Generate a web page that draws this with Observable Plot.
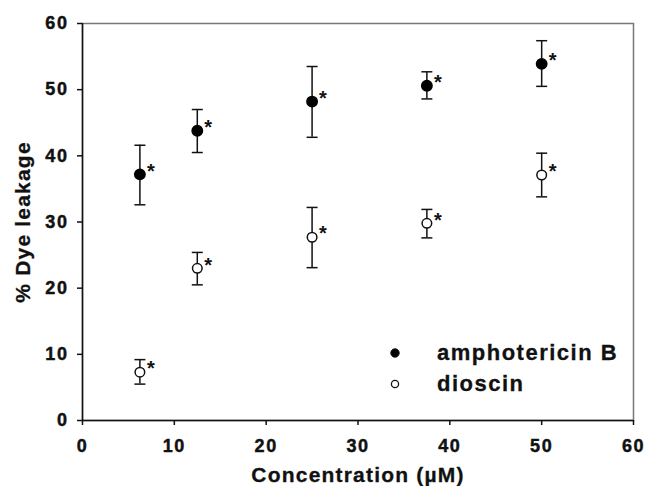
<!DOCTYPE html>
<html><head><meta charset="utf-8">
<script src="https://cdn.jsdelivr.net/npm/d3@7"></script>
<script src="https://cdn.jsdelivr.net/npm/@observablehq/plot@0.6"></script>
<style>
body{margin:0;background:#fff;font-family:"Liberation Sans",Arial,sans-serif;}
#wrap{position:relative;width:646px;height:486px;}
#wrap svg text{letter-spacing:1.2px;}
#wrap svg g[aria-label$="tick label"] text{letter-spacing:1.6px;stroke:#111;stroke-width:0.45px;}
.leg{position:absolute;left:380px;display:flex;align-items:center;font-weight:bold;font-size:22px;letter-spacing:1.5px;color:#111;height:26px;-webkit-text-stroke:0.3px #111;}
.leg svg{width:30px;height:26px;margin-right:27px;}
</style></head><body><div id="wrap"></div>
<script>
const concentrations = [6.25, 12.5, 25, 37.5, 50];
const amphoB     = [37.2, 43.8, 48.2, 50.6, 53.9];
const amphoBLow  = [32.6, 40.5, 42.8, 48.6, 50.5];
const amphoBHigh = [41.6, 47.0, 53.5, 52.7, 57.4];
const dioscin     = [7.3, 23.0, 27.7, 29.8, 37.1];
const dioscinLow  = [5.5, 20.5, 23.1, 27.6, 33.8];
const dioscinHigh = [9.2, 25.4, 32.2, 31.9, 40.4];
const xTicks = [0, 10, 20, 30, 40, 50, 60];
const yTicks = [0, 10, 20, 30, 40, 50, 60];
const seriesNames = ["amphotericin B", "dioscin"];
const xTitle = "Concentration (\u00b5M)";
const yTitle = "% Dye leakage";

const rows = [];
concentrations.forEach((c, i) => {
  rows.push({series: seriesNames[0], x: c, y: amphoB[i], lo: amphoBLow[i], hi: amphoBHigh[i]});
  rows.push({series: seriesNames[1], x: c, y: dioscin[i], lo: dioscinLow[i], hi: dioscinHigh[i]});
});
const capSymbol = {draw(ctx, size) { const w = Math.sqrt(size / Math.PI); ctx.moveTo(-w, 0); ctx.lineTo(w, 0); }};
const font = "'Liberation Sans', Arial, sans-serif";

const chart = Plot.plot({
  width: 646, height: 486,
  marginLeft: 82, marginRight: 13, marginTop: 23, marginBottom: 66,
  style: {fontFamily: font, background: "white", color: "#111"},
  x: {domain: [0, 60]},
  y: {domain: [0, 60]},
  marks: [
    Plot.frame({stroke: "#777", strokeWidth: 1.5}),
    Plot.ruleY([0], {stroke: "#111", strokeWidth: 1.5}),
    Plot.ruleX([0], {stroke: "#111", strokeWidth: 1.5}),
    Plot.axisX({ticks: xTicks, tickSize: 5, tickPadding: 14, fontSize: 18, fontWeight: "bold", label: null, stroke: "#111", strokeWidth: 1.5, fill: "#111"}),
    Plot.axisY({ticks: yTicks, tickSize: 5, tickPadding: 9, fontSize: 18, fontWeight: "bold", label: null, stroke: "#111", strokeWidth: 1.5, fill: "#111"}),
    Plot.text([xTitle], {text: d => d, frameAnchor: "bottom", textAnchor: "middle", lineAnchor: "middle", dy: 55, fontSize: 21, fontWeight: "bold", fill: "#111", stroke: "#111", strokeWidth: 0.3}),
    Plot.text([yTitle], {text: d => d, frameAnchor: "left", textAnchor: "middle", lineAnchor: "middle", dx: -59, rotate: -90, fontSize: 21, fontWeight: "bold", fill: "#111", stroke: "#111", strokeWidth: 0.3}),
    Plot.ruleX(rows, {x: "x", y1: "lo", y2: "hi", stroke: "#111", strokeWidth: 1.5}),
    Plot.dot(rows, {x: "x", y: "lo", symbol: capSymbol, r: 5.5, stroke: "#111", strokeWidth: 1.5}),
    Plot.dot(rows, {x: "x", y: "hi", symbol: capSymbol, r: 5.5, stroke: "#111", strokeWidth: 1.5}),
    Plot.dot(rows.filter(d => d.series === seriesNames[0]), {x: "x", y: "y", r: 5.2, fill: "#000", stroke: "#000"}),
    Plot.dot(rows.filter(d => d.series === seriesNames[1]), {x: "x", y: "y", r: 4.8, fill: "white", stroke: "#111", strokeWidth: 1.5}),
    Plot.text(rows, {x: "x", y: "y", text: () => "*", textAnchor: "start", lineAnchor: "top", dx: 7, dy: -11, fontSize: 20, fontWeight: "bold", fill: "#111"})
  ]
});
const wrap = document.getElementById("wrap");
wrap.appendChild(chart);

const legTops = [340, 371];
seriesNames.forEach((name, i) => {
  const div = document.createElement("div");
  div.className = "leg";
  div.style.top = legTops[i] + "px";
  const filled = i === 0;
  div.innerHTML = `<svg viewBox="0 0 30 26"><circle cx="15" cy="13" r="${filled ? 4.2 : 3.6}" fill="${filled ? '#000' : '#fff'}" stroke="#111" stroke-width="${filled ? 1 : 1.3}"/></svg><span>${name}</span>`;
  wrap.appendChild(div);
});
</script>
</body></html>
